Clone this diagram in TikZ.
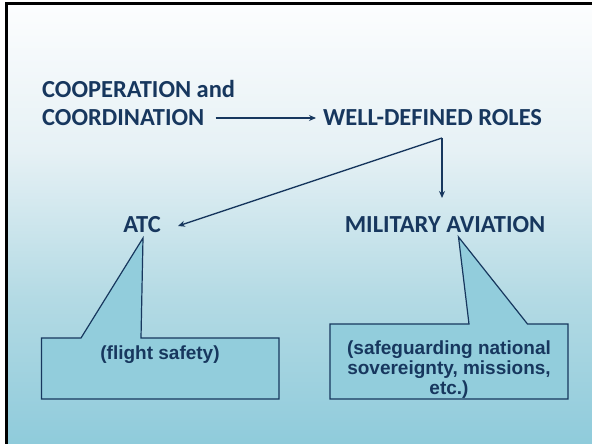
\documentclass[tikz,border=0pt]{standalone}
\usepackage{fontspec}
\setmainfont{Carlito}
\newfontfamily\calloutfont{Liberation Sans}
\usetikzlibrary{arrows.meta}
\definecolor{navy}{RGB}{23,55,94}
\definecolor{boxfill}{RGB}{146,205,220}
\definecolor{bgA}{RGB}{252,253,254}
\definecolor{bgB}{RGB}{230,241,245}
\definecolor{bgC}{RGB}{179,218,228}
\definecolor{bgD}{RGB}{143,203,219}
\pgfdeclareverticalshading{bgshade}{100bp}{color(0bp)=(bgD); color(25bp)=(bgD); color(41.5bp)=(bgC); color(58.5bp)=(bgB); color(75bp)=(bgA); color(100bp)=(bgA)}
\tikzset{
  heading/.style={font=\fontsize{24.5}{29}\selectfont\bfseries, text=navy, inner sep=0pt},
  callouttext/.style={font=\calloutfont\fontsize{19}{20}\selectfont\bfseries, text=navy, inner sep=0pt, align=center},
  arr/.style={draw=navy, line width=1.4pt, -{Stealth[length=7pt,width=6pt]}},
  callout/.style={draw=navy, line width=1.2pt, fill=boxfill, line join=miter},
}
\begin{document}
\begin{tikzpicture}[x=1pt,y=-1pt]
\useasboundingbox (0,0) rectangle (592,444);
\fill[white] (0,0) rectangle (592,444);
\shade[shading=bgshade] (7,5) rectangle (592,444);
\draw[black, line width=3pt] (6.5,444) -- (6.5,4) -- (592,4);

\node[heading, anchor=west] (coop) at (42,89) {COOPERATION and};
\node[heading, anchor=west] (coord) at (42,118) {COORDINATION};
\node[heading, anchor=west] (roles) at (323,118) {WELL-DEFINED ROLES};
\coordinate (split) at (442,138);
\node[heading] (atc) at (142,225) {ATC};
\node[heading] (mil) at (445,225) {MILITARY AVIATION};

\draw[arr] ([xshift=11pt]coord.east) -- ([xshift=-7pt]roles.west);
\draw[arr] (split) -- (178,226);
\draw[arr] (split) -- (442,198);

\draw[callout] (41.5,338) -- (81,338) -- (143,238) -- (141,338) -- (279,338) -- (279,399) -- (41.5,399) -- cycle;
\draw[callout] (330,324) -- (469,324) -- (458.5,237) -- (527.5,324) -- (568,324) -- (568,399) -- (330,399) -- cycle;

\node[callouttext] (safety) at (160,355) {(flight safety)};
\node[callouttext] (sovereign) at (449,370) {(safeguarding national\\sovereignty, missions,\\etc.)};
\end{tikzpicture}
\end{document}
